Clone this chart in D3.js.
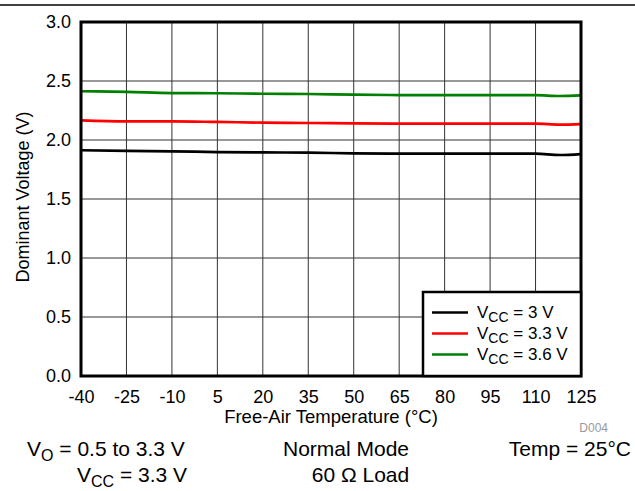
<!DOCTYPE html>
<meta charset="utf-8">
<style>
body { margin: 0; background: white; }
text { font-family: "Liberation Sans", Arial, sans-serif; fill: black; }
.grid line { stroke: #333; stroke-width: 1px; }
</style>
<body>
<script src="https://d3js.org/d3.v7.min.js"></script>
<script>
var width = 635,
    height = 491;

// temperatures (°C) and dominant voltage per supply
var temps = [-40, -25, -10, 5, 20, 35, 50, 65, 80, 95, 110, 118, 125];
var vcc3 = [1.913, 1.907, 1.904, 1.898, 1.895, 1.893, 1.887, 1.884, 1.884, 1.884, 1.884, 1.873, 1.881];
var vcc33 = [2.167, 2.158, 2.158, 2.153, 2.147, 2.144, 2.141, 2.138, 2.138, 2.138, 2.138, 2.130, 2.135];
var vcc36 = [2.413, 2.407, 2.398, 2.396, 2.392, 2.390, 2.384, 2.381, 2.381, 2.381, 2.380, 2.373, 2.378];

var xTicks = [-40, -25, -10, 5, 20, 35, 50, 65, 80, 95, 110, 125];
var yTicks = [0, 0.5, 1.0, 1.5, 2.0, 2.5, 3.0];

var series = [
  {label: "3 V", color: "black", values: vcc3},
  {label: "3.3 V", color: "red", values: vcc33},
  {label: "3.6 V", color: "green", values: vcc36}
];

var pLeft = 81, pRight = 581, pTop = 22, pBottom = 376;

var x = d3.scaleLinear().domain([-40, 125]).range([pLeft, pRight]);
var y = d3.scaleLinear().domain([0, 3]).range([pBottom, pTop]);

var svg = d3.select("body").append("svg")
    .attr("width", width)
    .attr("height", height);

// rule at the top
svg.append("line")
    .attr("x1", 0).attr("x2", width)
    .attr("y1", 5).attr("y2", 5)
    .attr("stroke", "black").attr("stroke-width", 1.5);

// grid
var grid = svg.append("g").attr("class", "grid");
grid.selectAll(".v").data(xTicks).enter().append("line")
    .attr("x1", d => x(d)).attr("x2", d => x(d))
    .attr("y1", pTop).attr("y2", pBottom);
grid.selectAll(".h").data(yTicks).enter().append("line")
    .attr("x1", pLeft).attr("x2", pRight)
    .attr("y1", d => y(d)).attr("y2", d => y(d));

// axes (labels only)
var xAxis = svg.append("g")
    .attr("transform", "translate(0," + pBottom + ")")
    .call(d3.axisBottom(x).tickValues(xTicks).tickSize(0).tickPadding(14).tickFormat(d => String(d)));
var yAxis = svg.append("g")
    .attr("transform", "translate(" + pLeft + ",0)")
    .call(d3.axisLeft(y).tickValues(yTicks).tickSize(0).tickPadding(10).tickFormat(d => d.toFixed(1)));
[xAxis, yAxis].forEach(function(a) {
  a.select(".domain").remove();
  a.selectAll("text").attr("font-size", 18).attr("font-family", "Liberation Sans, Arial, sans-serif");
});

// curves
var line = d3.line()
    .x((d, i) => x(temps[i]))
    .y(d => y(d))
    .curve(d3.curveMonotoneX);

svg.selectAll(".series").data(series).enter().append("path")
    .attr("d", d => line(d.values))
    .attr("fill", "none")
    .attr("stroke", d => d.color)
    .attr("stroke-width", 2.7);

// frame
svg.append("rect")
    .attr("x", pLeft).attr("y", pTop)
    .attr("width", pRight - pLeft).attr("height", pBottom - pTop)
    .attr("fill", "none").attr("stroke", "black").attr("stroke-width", 3);

// legend
var lg = svg.append("g");
lg.append("rect")
    .attr("x", 423).attr("y", 292)
    .attr("width", pRight - 423).attr("height", pBottom - 292)
    .attr("fill", "white").attr("stroke", "black").attr("stroke-width", 2.5);
var item = lg.selectAll(".item").data(series).enter().append("g")
    .attr("transform", (d, i) => "translate(0," + (312.5 + i * 21) + ")");
item.append("line")
    .attr("x1", 432).attr("x2", 468)
    .attr("stroke", d => d.color).attr("stroke-width", 2.7);
var lt = item.append("text")
    .attr("x", 477).attr("y", 5)
    .attr("font-size", 17);
lt.append("tspan").text("V");
lt.append("tspan").attr("font-size", 14).attr("dy", 4).text("CC");
lt.append("tspan").attr("dy", -4).text(d => " = " + d.label);

// axis titles
svg.append("text")
    .attr("x", (pLeft + pRight) / 2).attr("y", 423)
    .attr("text-anchor", "middle").attr("font-size", 18.5)
    .text("Free-Air Temperature (°C)");
svg.append("text")
    .attr("transform", "translate(29,197) rotate(-90)")
    .attr("text-anchor", "middle").attr("font-size", 18)
    .text("Dominant Voltage (V)");
svg.append("text")
    .attr("x", 608).attr("y", 432)
    .attr("text-anchor", "end").attr("font-size", 12)
    .style("fill", "#999")
    .text("D004");

// conditions under the chart
var t1 = svg.append("text").attr("x", 27).attr("y", 456).attr("font-size", 21);
t1.append("tspan").text("V");
t1.append("tspan").attr("font-size", 16).attr("dy", 4.5).text("O");
t1.append("tspan").attr("dy", -4.5).text(" = 0.5 to 3.3 V");

var t2 = svg.append("text").attr("x", 77).attr("y", 482).attr("font-size", 21);
t2.append("tspan").text("V");
t2.append("tspan").attr("font-size", 16).attr("dy", 4.5).text("CC");
t2.append("tspan").attr("dy", -4.5).text(" = 3.3 V");

svg.append("text").attr("x", 346).attr("y", 456).attr("text-anchor", "middle")
    .attr("font-size", 21).text("Normal Mode");
svg.append("text").attr("x", 360.5).attr("y", 482).attr("text-anchor", "middle")
    .attr("font-size", 21).text("60 Ω Load");
svg.append("text").attr("x", 631).attr("y", 456).attr("text-anchor", "end")
    .attr("font-size", 21).text("Temp = 25°C");
</script>
</body>
